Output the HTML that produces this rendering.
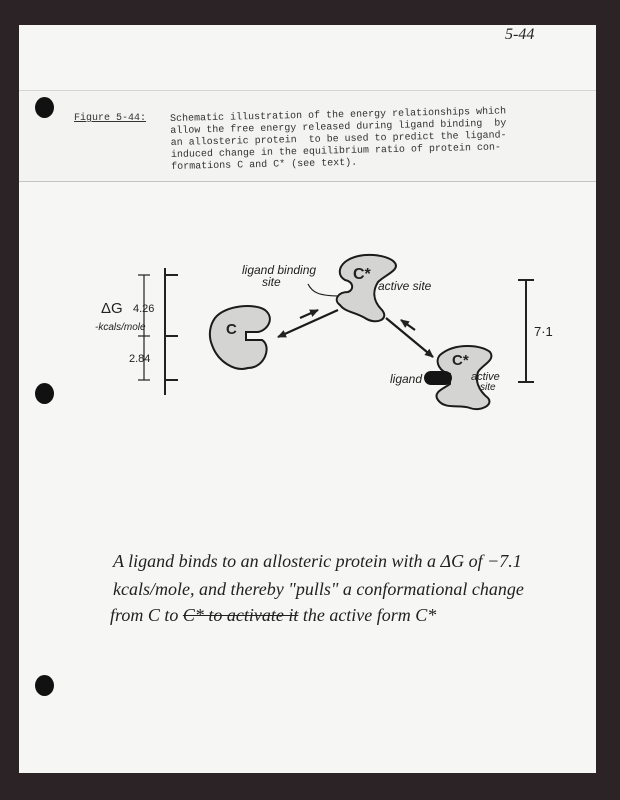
<!DOCTYPE html>
<html><head><meta charset="utf-8"><style>
html,body{margin:0;padding:0;}
body{width:620px;height:800px;background:#2b2325;position:relative;overflow:hidden;}
.paper{position:absolute;left:19px;top:25px;width:577px;height:748px;background:#f6f6f4;}
.hole{position:absolute;width:19px;height:21px;border-radius:50%;background:#111;}
.mono{font-family:"Liberation Mono",monospace;font-size:10px;color:#333;position:absolute;white-space:pre;line-height:12px;}
.hand{font-family:"Liberation Serif",serif;font-style:italic;color:#222;position:absolute;white-space:pre;}
</style></head><body>
<div class="paper"></div>
<div style="position:absolute;left:19px;top:90px;width:577px;height:90px;background:#f3f3f1;border-top:1px solid #d4d4d4;border-bottom:1px solid #c4c4c4;"></div>
<div class="hole" style="left:35px;top:97px"></div>
<div class="hole" style="left:35px;top:383px"></div>
<div class="hole" style="left:35px;top:675px"></div>
<div class="hand" style="left:505px;top:26px;font-size:16px;">5-44</div>
<div class="mono" style="left:74px;top:113px;text-decoration:underline;">Figure 5-44:</div>
<div class="mono" style="left:170px;top:114px;transform:rotate(-1.3deg);transform-origin:0 0;">Schematic illustration of the energy relationships which
allow the free energy released during ligand binding  by
an allosteric protein  to be used to predict the ligand-
induced change in the equilibrium ratio of protein con-
formations C and C* (see text).</div>
<svg width="620" height="800" style="position:absolute;left:0;top:0" xmlns="http://www.w3.org/2000/svg">
<defs><marker id="a" markerUnits="userSpaceOnUse" markerWidth="10" markerHeight="8" refX="8" refY="4" orient="auto"><path d="M0,0 L9,4 L0,8 z" fill="#222"/></marker></defs>
<g stroke="#222" stroke-width="2" fill="none">
<line x1="165" y1="268" x2="165" y2="395"/>
<line x1="165" y1="275" x2="178" y2="275"/>
<line x1="165" y1="336" x2="178" y2="336"/>
<line x1="165" y1="380" x2="178" y2="380"/>
<line x1="526" y1="280" x2="526" y2="382"/>
<line x1="518" y1="280" x2="534" y2="280"/>
<line x1="518" y1="382" x2="534" y2="382"/>
</g>
<g stroke="#222" stroke-width="1.2" fill="none">
<line x1="144" y1="275" x2="144" y2="380"/>
<line x1="138" y1="275" x2="150" y2="275"/><line x1="138" y1="380" x2="150" y2="380"/>
<line x1="138" y1="336" x2="150" y2="336"/>
<path d="M308,284 C312,292 318,296 340,296"/>
</g>
<g fill="#d4d4d2" stroke="#1b1b1b" stroke-width="2">
<path d="M215,318 C225,305 255,303 265,310 C275,318 268,330 258,332 L246,332 L246,340 L262,340 C272,346 265,368 248,368 C235,372 218,362 212,345 C208,335 210,325 215,318 z"/>
<path d="M345,262 C360,250 390,255 395,263 C400,270 385,275 378,282 C373,290 372,300 382,310 C390,320 375,325 365,318 C355,312 345,312 340,305 C333,300 338,292 348,292 C354,290 354,282 345,280 C338,276 338,268 345,262 z"/>
<path d="M440,355 C455,342 482,345 490,352 C496,360 482,365 478,372 C475,380 478,390 488,398 C494,405 480,412 470,408 C460,404 445,410 438,400 C432,392 445,388 450,384 L450,374 C440,372 434,362 440,355 z"/>
</g>
<rect x="424" y="371" width="28" height="14" rx="7" fill="#151515"/>
<g stroke="#1b1b1b" stroke-width="2.2" fill="none">
<line x1="338" y1="310" x2="278" y2="337" marker-end="url(#a)"/>
<line x1="300" y1="318" x2="318" y2="310" marker-end="url(#a)"/>
<line x1="386" y1="318" x2="433" y2="357" marker-end="url(#a)"/>
<line x1="415" y1="330" x2="401" y2="320" marker-end="url(#a)"/>
</g>
<g font-family="Liberation Sans, sans-serif" fill="#222">
<text x="226" y="334" font-size="15" font-weight="bold">C</text>
<text x="353" y="279" font-size="16" font-weight="bold">C*</text>
<text x="452" y="365" font-size="15" font-weight="bold">C*</text>
<text x="242" y="274" font-size="12" font-style="italic">ligand binding</text>
<text x="262" y="286" font-size="12" font-style="italic">site</text>
<text x="378" y="290" font-size="12" font-style="italic">active site</text>
<text x="390" y="383" font-size="12" font-style="italic">ligand</text>
<text x="471" y="380" font-size="11" font-style="italic">active</text>
<text x="480" y="390" font-size="10" font-style="italic">site</text>
<text x="534" y="336" font-size="13">7·1</text>
<text x="101" y="313" font-size="15">ΔG</text>
<text x="133" y="312" font-size="11">4.26</text>
<text x="95" y="330" font-size="10" font-style="italic">-kcals/mole</text>
<text x="129" y="362" font-size="11">2.84</text>
</g>
</svg>
<div class="hand" style="left:113px;top:551px;font-size:18px;">A ligand binds to an allosteric protein with a ΔG of −7.1</div>
<div class="hand" style="left:113px;top:579px;font-size:18px;">kcals/mole, and thereby "pulls" a conformational change</div>
<div class="hand" style="left:110px;top:605px;font-size:18px;">from C to <s>C* to activate it</s> the active form C*</div>
</body></html>
